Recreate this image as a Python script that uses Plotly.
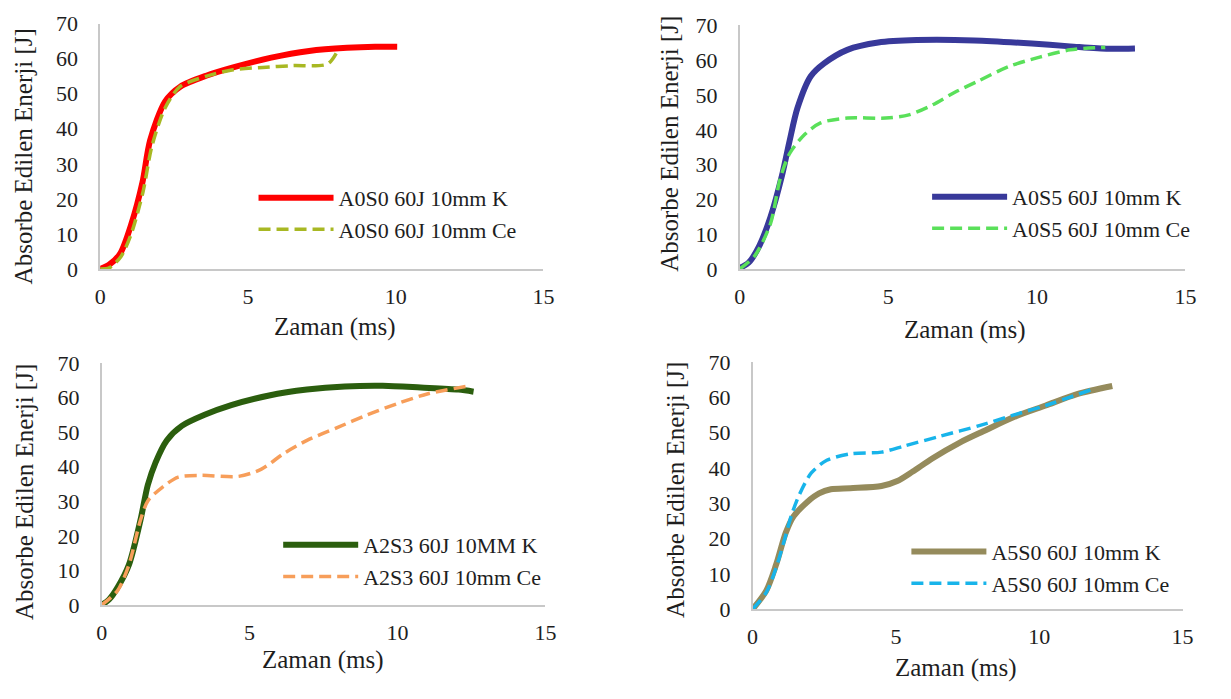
import plotly.graph_objects as go

W, H = 1231, 699

# ---------------- data ----------------
# Panel 1: A0S0
p1_k_x = [0, 0.3, 0.67, 1.05, 1.43, 1.69, 2.2, 2.71, 3.61, 4.5, 5.79, 7.07, 8.35, 9.3, 10.05]
p1_k_y = [0.0, 1.2, 4.3, 12.7, 24.7, 36.7, 47.8, 52.0, 55.2, 57.5, 60.3, 62.2, 63.1, 63.4, 63.4]
p1_c_x = [0, 0.3, 0.7, 1.05, 1.45, 1.75, 2.2, 2.7, 3.6, 4.5, 5.5, 6.5, 7.7, 8.05]
p1_c_y = [0.0, 0.3, 3.5, 10.0, 22.0, 35.0, 46.0, 52.0, 55.0, 56.8, 57.5, 58.0, 58.5, 62.5]

# Panel 2: A0S5
p2_k_x = [0, 0.3, 0.65, 1.03, 1.42, 1.68, 1.94, 2.39, 2.84, 3.62, 4.66, 5.95, 7.89, 9.83, 11.12, 12.41, 13.3]
p2_k_y = [0.3, 1.8, 6.5, 14.8, 26.8, 36.9, 46.2, 55.4, 59.1, 63.0, 65.1, 65.8, 65.7, 64.8, 64.0, 63.3, 63.4]
p2_c_x = [0, 0.5, 1.03, 1.36, 1.68, 2.2, 2.72, 3.62, 4.91, 5.69, 6.47, 7.24, 8.02, 9.05, 10.09, 11.12, 12.3]
p2_c_y = [0.0, 3.7, 12.9, 25.9, 33.2, 38.8, 42.0, 43.4, 43.4, 44.3, 47.1, 50.8, 54.0, 58.2, 60.9, 63.0, 63.7]

# Panel 3: A2S3
p3_k_x = [0, 0.25, 0.54, 0.92, 1.31, 1.56, 1.82, 2.2, 2.71, 3.48, 4.38, 5.66, 6.94, 8.22, 9.5, 10.78, 12.06, 12.57]
p3_k_y = [0.0, 1.6, 5.1, 11.6, 24.5, 34.7, 41.2, 47.6, 51.8, 55.0, 57.8, 60.6, 62.3, 63.2, 63.4, 62.9, 62.3, 61.7]
p3_c_x = [0, 0.54, 0.92, 1.31, 1.56, 2.07, 2.59, 3.35, 4.63, 5.4, 6.17, 6.94, 7.96, 8.98, 10.01, 11.03, 12.31]
p3_c_y = [0.0, 4.2, 11.6, 24.5, 30.1, 34.2, 37.0, 37.5, 37.2, 39.3, 43.9, 47.6, 51.3, 55.0, 58.3, 61.1, 63.2]

# Panel 4: A5S0
p4_k_x = [0, 0.48, 0.82, 1.16, 1.43, 1.91, 2.32, 2.73, 3.41, 4.5, 5.05, 5.59, 6.27, 7.23, 8.05, 9.14, 10.23, 11.32, 12.55]
p4_k_y = [0.0, 5.3, 12.6, 21.7, 26.3, 30.4, 32.8, 34.0, 34.3, 34.9, 36.3, 39.0, 42.7, 47.2, 50.4, 54.5, 57.7, 60.9, 63.2]
p4_c_x = [0, 0.48, 0.82, 1.09, 1.36, 1.64, 2.05, 2.59, 3.41, 4.5, 5.32, 6.55, 7.91, 9.27, 10.23, 11.86]
p4_c_y = [0.0, 4.8, 11.7, 19.0, 26.7, 32.6, 38.6, 42.2, 44.0, 44.5, 46.3, 49.0, 52.0, 55.4, 57.7, 62.3]

names = [
    ("A0S0 60J 10mm K", "A0S0 60J 10mm Ce"),
    ("A0S5 60J 10mm K", "A0S5 60J 10mm Ce"),
    ("A2S3 60J 10MM K", "A2S3 60J 10mm Ce"),
    ("A5S0 60J 10mm K", "A5S0 60J 10mm Ce"),
]
x_ticks = [0, 5, 10, 15]
y_ticks = [0, 10, 20, 30, 40, 50, 60, 70]
x_title = "Zaman (ms)"
y_title = "Absorbe Edilen Enerji [J]"

# ---------------- style ----------------
FONT = "Liberation Serif"
TXT = "#1e1e1e"
AX = "#c8c8c8"
solid_cols = ["#ff0000", "#38399a", "#2b5e0e", "#958b5c"]
dash_cols = ["#a8b823", "#5ae05a", "#f79e5a", "#18b4ea"]

# pixel layout of each plot area: (left, right, top, bottom)
areas = [(95.5, 545, 12, 266.5), (744, 1196, 14, 266.5), (97, 547, 364, 615), (757, 1193, 363, 619.5)]
# legend top-left (px) per panel
leg_pos = [(251, 171), (934, 170), (276, 531), (913, 538)]
# axis title centres (px): x-title (cx, cy), y-title (cx, cy)
xt_pos = [(333, 327), (972, 330), (321, 672), (963, 680)]
yt_pos = [(18, 150), (672, 137), (18, 498), (679, 496)]

series = [
    (p1_k_x, p1_k_y, p1_c_x, p1_c_y),
    (p2_k_x, p2_k_y, p2_c_x, p2_c_y),
    (p3_k_x, p3_k_y, p3_c_x, p3_c_y),
    (p4_k_x, p4_k_y, p4_c_x, p4_c_y),
]

fig = go.Figure()
layout = dict(
    width=W, height=H,
    margin=dict(l=0, r=0, t=0, b=0),
    paper_bgcolor="white", plot_bgcolor="white",
    font=dict(family=FONT, size=22, color=TXT),
    showlegend=True,
)
annotations = []

for i, (kx, ky, cx, cy) in enumerate(series):
    n = "" if i == 0 else str(i + 1)
    xa, ya = "x" + n, "y" + n
    leg = "legend" + n
    fig.add_trace(go.Scatter(
        x=kx, y=ky, mode="lines", name=names[i][0], xaxis=xa, yaxis=ya, legend=leg,
        line=dict(color=solid_cols[i], width=6, shape="spline", smoothing=0.8),
    ))
    fig.add_trace(go.Scatter(
        x=cx, y=cy, mode="lines", name=names[i][1], xaxis=xa, yaxis=ya, legend=leg,
        line=dict(color=dash_cols[i], width=3.5, dash="12px,6px", shape="spline", smoothing=0.8),
    ))
    l, r, t, b = areas[i]
    common = dict(showgrid=False, zeroline=False, showline=True, linecolor=AX, linewidth=1.5,
                  ticks="", tickfont=dict(family=FONT, size=22, color=TXT), fixedrange=True)
    layout["xaxis" + n] = dict(domain=[l / W, r / W], range=[0, 15], tickvals=x_ticks,
                               anchor=ya, ticklabelstandoff=7, **common)
    layout["yaxis" + n] = dict(domain=[1 - b / H, 1 - t / H], range=[0, 70], tickvals=y_ticks,
                               anchor=xa, ticklabelstandoff=16, **common)
    lx, ly = leg_pos[i]
    layout[leg] = dict(x=lx / W, y=1 - ly / H, xanchor="left", yanchor="top",
                       bgcolor="rgba(0,0,0,0)", font=dict(family=FONT, size=22, color=TXT),
                       itemwidth=75, tracegroupgap=0)
    ax_, ay_ = xt_pos[i]
    annotations.append(dict(text=x_title, x=ax_ / W, y=1 - ay_ / H, xref="paper", yref="paper",
                            showarrow=False, xanchor="center", yanchor="middle",
                            font=dict(family=FONT, size=25, color=TXT)))
    bx, by = yt_pos[i]
    annotations.append(dict(text=y_title, x=bx / W, y=1 - by / H, xref="paper", yref="paper",
                            showarrow=False, xanchor="center", yanchor="middle", textangle=-90,
                            font=dict(family=FONT, size=25, color=TXT)))

layout["annotations"] = annotations
fig.update_layout(**layout)
fig.write_html("out.html", post_script="document.body.style.margin='0';document.body.style.overflow='hidden';")
